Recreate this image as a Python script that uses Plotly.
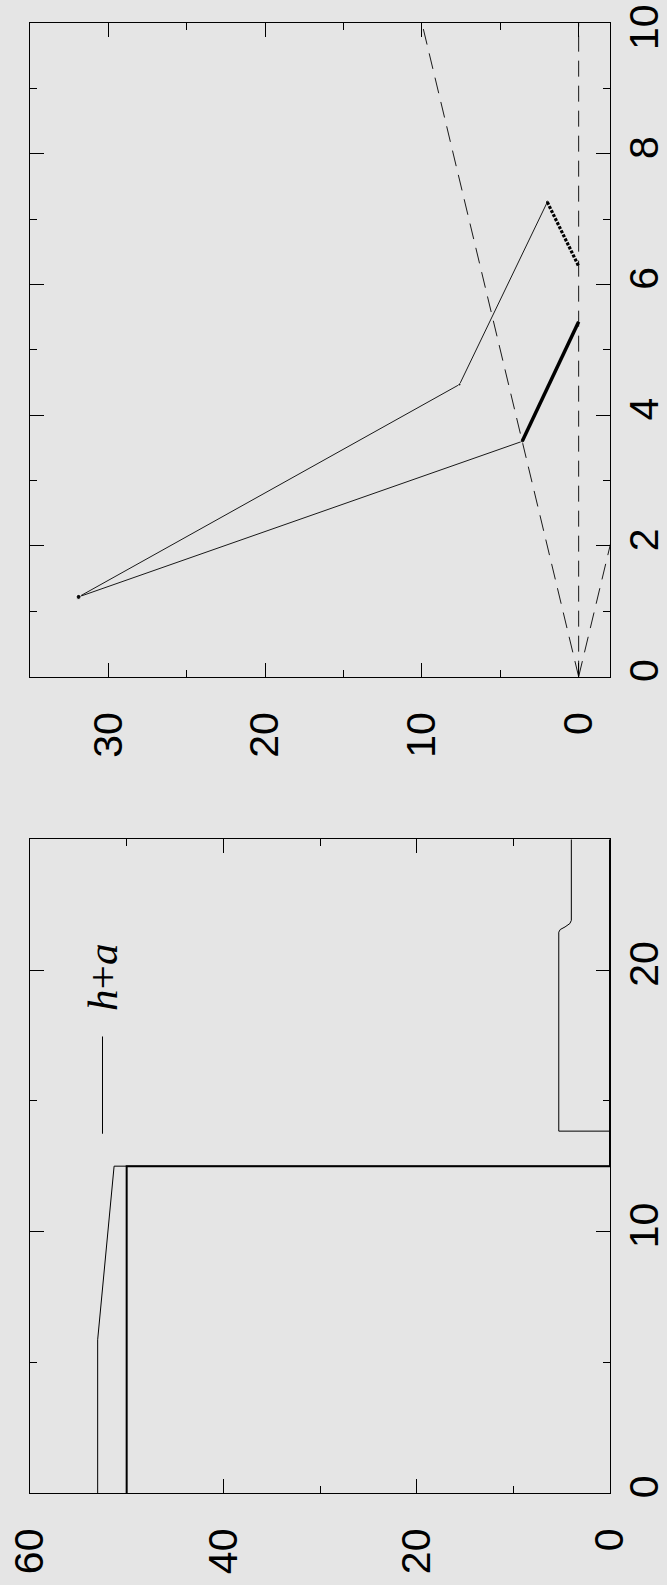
import plotly.graph_objects as go

# ---- Panel 1 (lower): depth h and surface h+a along the channel ----
s_h = [0, 12.5, 12.5, 25]
h = [50, 50, 0, 0]
s_ha = [0, 5.86, 12.5, 12.5, 13.84, 13.84, 21.45, 21.55, 21.65, 21.78, 21.9, 25]
ha = [53, 53, 51.3, 0, 0, 5.3, 5.3, 5.15, 4.65, 4.15, 4.0, 4.0]

# ---- Panel 2 (upper): phase-plane paths ----
ref_t = [0, 10]
ref_up = [0, 10]
ref_zero = [0, 0]
ref_down = [0, -10]
path_a_t = [1.22, 4.47, 7.26]
path_a_v = [31.9, 7.6, 2.0]
path_b_t = [1.22, 3.6]
path_b_v = [31.9, 3.6]
thick_t = [3.6, 5.43]
thick_v = [3.6, 0]
dotted_t = [7.26, 6.28]
dotted_v = [2.0, 0]

# tick values of the upper panel's vertical axis; the top one is drawn as an annotation
t_ticks = [0, 2, 4, 6, 8, 10]
t_labels = ["0", "2", "4", "6", "8", ""]

W, H = 667, 1585
L, R, T, B = 30, 610.3, 23.3, 1492.7
ph = B - T
top_dom = [(B - 676.7) / ph, 1]
bot_dom = [0, (B - 839.3) / ph]

BG = "#e5e5e5"
INK = "#000000"
TICKFONT = dict(family="Liberation Sans, Arial, sans-serif", size=41, color=INK)

fig = go.Figure()

dash = "16px,9px"
for v in (ref_up, ref_zero, ref_down):
    fig.add_trace(go.Scatter(x=v, y=ref_t, mode="lines", xaxis="x", yaxis="y",
                             line=dict(color=INK, width=0.9, dash=dash)))
fig.add_trace(go.Scatter(x=path_a_v, y=path_a_t, mode="lines+markers", xaxis="x", yaxis="y",
                         line=dict(color=INK, width=0.9),
                         marker=dict(color=INK, size=[5, 3, 4])))
fig.add_trace(go.Scatter(x=path_b_v, y=path_b_t, mode="lines+markers", xaxis="x", yaxis="y",
                         line=dict(color=INK, width=0.9),
                         marker=dict(color=INK, size=[5, 3])))
fig.add_trace(go.Scatter(x=thick_v, y=thick_t, mode="lines", xaxis="x", yaxis="y",
                         line=dict(color=INK, width=3.5)))
fig.add_trace(go.Scatter(x=dotted_v, y=dotted_t, mode="lines", xaxis="x", yaxis="y",
                         line=dict(color=INK, width=3.2, dash="3px,1.5px")))

fig.add_trace(go.Scatter(x=ha, y=s_ha, mode="lines", xaxis="x2", yaxis="y2",
                         line=dict(color=INK, width=1.0)))
fig.add_trace(go.Scatter(x=h, y=s_h, mode="lines", xaxis="x2", yaxis="y2",
                         line=dict(color=INK, width=2.0)))

common = dict(showline=True, linecolor=INK, linewidth=1.3, mirror="ticks",
              ticks="inside", ticklen=14, tickwidth=1.2, tickcolor=INK,
              showgrid=False, zeroline=False, tickfont=TICKFONT, tickangle=-90,
              automargin=False, ticklabeloverflow="allow")

fig.update_layout(
    width=W, height=H,
    margin=dict(l=L, r=W - R, t=T, b=H - B),
    paper_bgcolor=BG, plot_bgcolor=BG,
    showlegend=False,
    xaxis=dict(domain=[0, 1], anchor="y", range=[35, -2], dtick=10, tick0=0,
               minor=dict(dtick=5, ticklen=7, tickwidth=1.0, tickcolor=INK, ticks="inside"),
               ticklabelstandoff=18, **common),
    yaxis=dict(domain=top_dom, anchor="x", range=[0, 10], tickmode="array",
               tickvals=t_ticks, ticktext=t_labels, side="right",
               minor=dict(tickmode="linear", tick0=0, dtick=1, ticklen=7, tickwidth=1.0,
                          tickcolor=INK, ticks="inside"),
               ticklabelstandoff=-2, **common),
    xaxis2=dict(domain=[0, 1], anchor="y2", range=[60, 0], dtick=20, tick0=0,
                minor=dict(dtick=10, ticklen=7, tickwidth=1.0, tickcolor=INK, ticks="inside"),
                ticklabelstandoff=18, **common),
    yaxis2=dict(domain=bot_dom, anchor="x2", range=[0, 25], dtick=10, tick0=0, side="right",
                minor=dict(dtick=5, ticklen=7, tickwidth=1.0, tickcolor=INK, ticks="inside"),
                ticklabelstandoff=-2, **common),
)

# top label of the upper vertical axis, kept inside the page
fig.add_annotation(xref="paper", yref="y", x=1, y=t_ticks[-1], xanchor="center", yanchor="top",
                   xshift=34, yshift=21, text="10", textangle=-90, showarrow=False,
                   font=TICKFONT)

# legend key for h+a
fig.add_shape(type="line", xref="x2", yref="y2", x0=52.5, x1=52.5, y0=13.74, y1=17.46,
              line=dict(color=INK, width=1.0))
fig.add_annotation(xref="x2", yref="y2", x=52.5, y=19.72, text="<i>h</i>+<i>a</i>",
                   textangle=-90, showarrow=False,
                   font=dict(family="Liberation Serif, Times New Roman, serif", size=43, color=INK))

fig.write_html("out.html")
